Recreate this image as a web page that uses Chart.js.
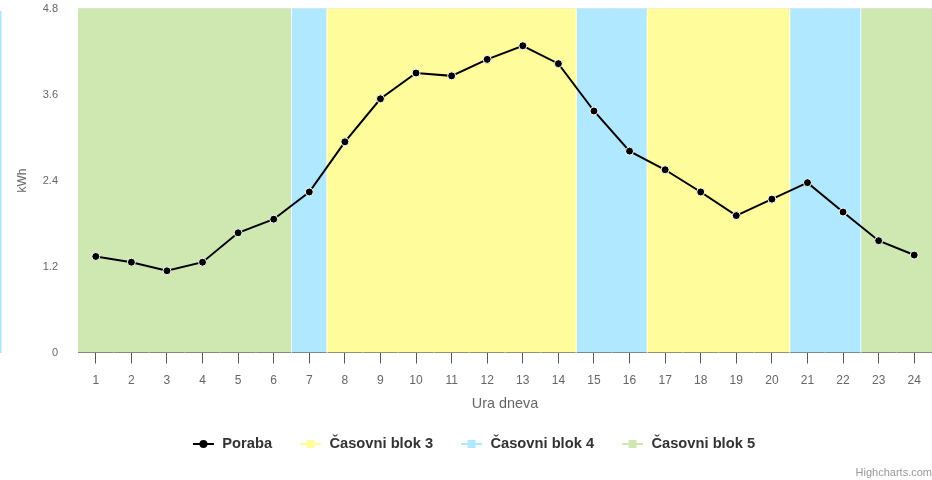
<!DOCTYPE html>
<html><head><meta charset="utf-8">
<script src="https://cdn.jsdelivr.net/npm/chart.js@4.4.1/dist/chart.umd.min.js"></script>
<style>html,body{margin:0;padding:0;background:#fff;} #wrap{position:relative;width:932px;height:480px;}</style>
</head><body><div id="wrap"><canvas id="c" width="932" height="480"></canvas></div>
<script>
const hours = ['1','2','3','4','5','6','7','8','9','10','11','12','13','14','15','16','17','18','19','20','21','22','23','24'];
const poraba = [1.34, 1.26, 1.14, 1.26, 1.67, 1.86, 2.24, 2.94, 3.54, 3.90, 3.86, 4.09, 4.28, 4.03, 3.37, 2.81, 2.55, 2.24, 1.91, 2.14, 2.37, 1.96, 1.56, 1.36];
const hourBlock = [5,5,5,5,5,5,4,3,3,3,3,3,3,3,4,4,3,3,3,3,4,4,5,5];
const blockIds = [3, 4, 5];
const blockNames = ['Časovni blok 3', 'Časovni blok 4', 'Časovni blok 5'];
const blockColors = ['#fffd9b', '#b0e9ff', '#cfe8b1'];
const blockTop = 4.8;
const yTicks = [0, 1.2, 2.4, 3.6, 4.8];
const yTickLabels = ['0', '1.2', '2.4', '3.6', '4.8'];
const seriesName = 'Poraba';
const xTitle = 'Ura dneva';
const yTitle = 'kWh';
const creditsText = 'Highcharts.com';

const FONT = "'Liberation Sans', Arial, Helvetica, sans-serif";
Chart.defaults.font.family = FONT;

function makeIcon(color, isLine) {
  const cv = document.createElement('canvas');
  cv.width = 38; cv.height = 14;
  const g = cv.getContext('2d');
  g.strokeStyle = color; g.lineWidth = 2;
  g.beginPath(); g.moveTo(16, 7); g.lineTo(37, 7); g.stroke();
  g.fillStyle = color;
  if (isLine) { g.beginPath(); g.arc(26.5, 7, 4, 0, Math.PI * 2); g.fill(); }
  else { g.fillRect(22.5, 3, 8, 8); }
  return cv;
}
const legendIcons = [makeIcon('#000', true)].concat(blockColors.map(c => makeIcon(c, false)));

function isStart(i) { return i === 0 || hourBlock[i - 1] !== hourBlock[i]; }
function isEnd(i) { return i === hourBlock.length - 1 || hourBlock[i + 1] !== hourBlock[i]; }

const datasets = [{
  type: 'line', label: seriesName, data: poraba,
  borderColor: '#000', backgroundColor: '#000', borderWidth: 2,
  pointRadius: 4, pointHoverRadius: 4, pointBackgroundColor: '#000',
  pointBorderColor: '#fff', pointBorderWidth: 1, tension: 0, order: 0
}].concat(blockIds.map((id, k) => ({
  type: 'bar', label: blockNames[k],
  data: hourBlock.map(b => b === id ? blockTop : null),
  backgroundColor: blockColors[k], borderWidth: 0,
  borderRadius: ctx => ({ topLeft: isStart(ctx.dataIndex) ? 3 : 0, topRight: isEnd(ctx.dataIndex) ? 3 : 0, bottomLeft: 0, bottomRight: 0 }),
  borderSkipped: 'start', inflateAmount: 0.7, categoryPercentage: 1, barPercentage: 1, order: 1
})));

const extras = {
  id: 'extras',
  beforeDatasetDraw(chart, args) {
    if (args.index !== 0) return;
    const c = chart.ctx, xs = chart.scales.x, ca = chart.chartArea;
    c.save();
    c.strokeStyle = 'rgba(255,255,255,0.85)'; c.lineWidth = 1;
    for (let i = 1; i < hourBlock.length; i++) {
      if (hourBlock[i] === hourBlock[i - 1]) continue;
      const x = (xs.getPixelForValue(i - 1) + xs.getPixelForValue(i)) / 2;
      c.beginPath(); c.moveTo(x, ca.top); c.lineTo(x, ca.bottom); c.stroke();
    }
    c.restore();
  },
  afterDraw(chart) {
    const c = chart.ctx; c.save();
    c.fillStyle = '#999'; c.font = '11px ' + FONT; c.textAlign = 'right'; c.textBaseline = 'middle';
    c.fillText(creditsText, 932, 473);
    c.fillStyle = '#a6e6fb'; c.fillRect(0, 11, 1.5, 342);
    c.restore();
  }
};

new Chart(document.getElementById('c'), {
  type: 'bar',
  data: { labels: hours, datasets },
  plugins: [extras],
  options: {
    responsive: false, animation: false, devicePixelRatio: 1, events: [],
    layout: { autoPadding: false, padding: { top: 8.5, right: 0, bottom: 18.65, left: 0 } },
    plugins: {
      tooltip: { enabled: false },
      legend: {
        position: 'bottom', align: 'center',
        labels: {
          usePointStyle: true, pointStyleWidth: 38, padding: 12, color: '#333',
          font: { size: 14.7, weight: 'bold', family: FONT },
          generateLabels(chart) {
            const items = Chart.defaults.plugins.legend.labels.generateLabels(chart);
            return items.map(it => Object.assign({}, it, { pointStyle: legendIcons[it.datasetIndex], lineWidth: 0 }));
          }
        }
      }
    },
    scales: {
      x: {
        stacked: true, offset: true, z: 1,
        grid: { display: true, drawOnChartArea: false, drawTicks: true, tickLength: 11, color: '#555', offset: false },
        border: { display: true, color: '#555', width: 1 },
        ticks: { color: '#666', font: { size: 12 }, padding: 10, maxRotation: 0, autoSkip: false },
        title: { display: true, text: xTitle, color: '#666', font: { size: 14.4 }, padding: { top: 0, bottom: 12 } },
        afterFit(s) { s.height = 72.15; }
      },
      y: {
        stacked: false, min: 0, max: 4.8,
        afterBuildTicks(s) { s.ticks = yTicks.map(v => ({ value: v })); },
        grid: { color: '#e6e6e6', drawTicks: true, tickLength: 19, tickColor: 'rgba(0,0,0,0)' },
        border: { display: false },
        ticks: { color: '#666', font: { size: 11 }, padding: 1, callback: (v, i) => yTickLabels[i] },
        title: { display: true, text: yTitle, color: '#666', font: { size: 12 }, padding: { top: 15.4, bottom: 0 } },
        afterFit(s) { s.width = 78; }
      }
    }
  }
});
</script>
</body></html>
